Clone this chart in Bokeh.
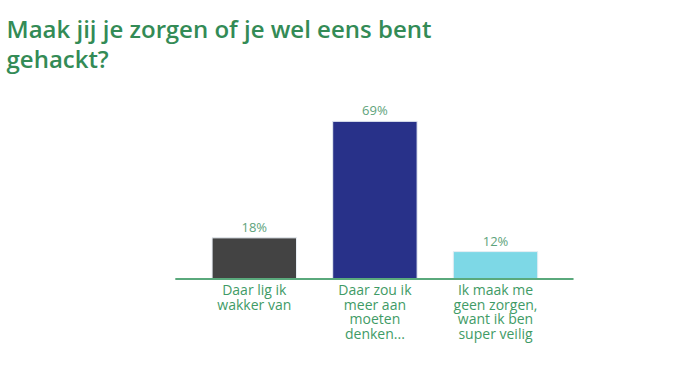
from bokeh.plotting import figure
from bokeh.models import Range1d, Label
from bokeh.core.properties import value
from bokeh.embed import file_html
from bokeh.resources import INLINE

# ---- data ----
title_lines = ["Maak jij je zorgen of je wel eens bent", "gehackt?"]
categories = ["Daar lig ik\nwakker van",
              "Daar zou ik\nmeer aan\nmoeten\ndenken...",
              "Ik maak me\ngeen zorgen,\nwant ik ben\nsuper veilig"]
values = [18, 69, 12]
value_labels = ["18%", "69%", "12%"]
bar_colors = ["#434343", "#283189", "#7dd8e6"]

W, H = 686, 372
PX_X = 120.6      # px per category unit
PX_Y = 2.285      # px per percent
CX0 = 253.8       # px position of first category center
BASE = 278.5      # px (from top) of baseline
TXT_SHIFT = 6     # compensation for text baseline rendering

p = figure(width=W, height=H, output_backend="svg", toolbar_location=None,
           x_range=Range1d(-CX0 / PX_X, (W - CX0) / PX_X),
           y_range=Range1d(-(H - BASE) / PX_Y, BASE / PX_Y),
           min_border=0, outline_line_color=None)
p.axis.visible = False
p.grid.visible = False
p.background_fill_color = "white"
p.border_fill_color = "white"

xs = list(range(len(categories)))
p.vbar(x=xs, top=values, bottom=0, width=0.70, fill_color=bar_colors,
       line_color="#e8eef4", line_width=1)

# baseline (axis line)
p.segment(x0=[xs[0] - 0.655], x1=[xs[-1] + 0.647], y0=[0], y1=[0],
          line_color="#5aa97c", line_width=2)

# value labels
p.text(x=xs, y=[v + (5 + TXT_SHIFT) / PX_Y for v in values], text=value_labels,
       text_align="center", text_baseline="alphabetic",
       text_font=value("Open Sans"), text_font_size="13px",
       text_color="#5ea37b")

# category labels, line by line
lx, ly, lt = [], [], []
for i, c in enumerate(categories):
    for j, line in enumerate(c.split("\n")):
        lx.append(i)
        ly.append(-(16.5 + 14.5 * j - TXT_SHIFT) / PX_Y)
        lt.append(line)
p.text(x=lx, y=ly, text=lt, text_align="center", text_baseline="alphabetic",
       text_font=value("Open Sans"), text_font_size="14px",
       text_color="#3f9b66")

# title
for k, t in enumerate(title_lines):
    p.add_layout(Label(x=6, y=H - 28 - 30 * k, x_units="screen", y_units="screen",
                       text=t, text_font="'Open Sans SemiBold', 'Open Sans'",
                       text_font_size="24px",
                       text_color="#338b56", text_baseline="alphabetic"))

open("out.html", "w").write(file_html(p, INLINE))
